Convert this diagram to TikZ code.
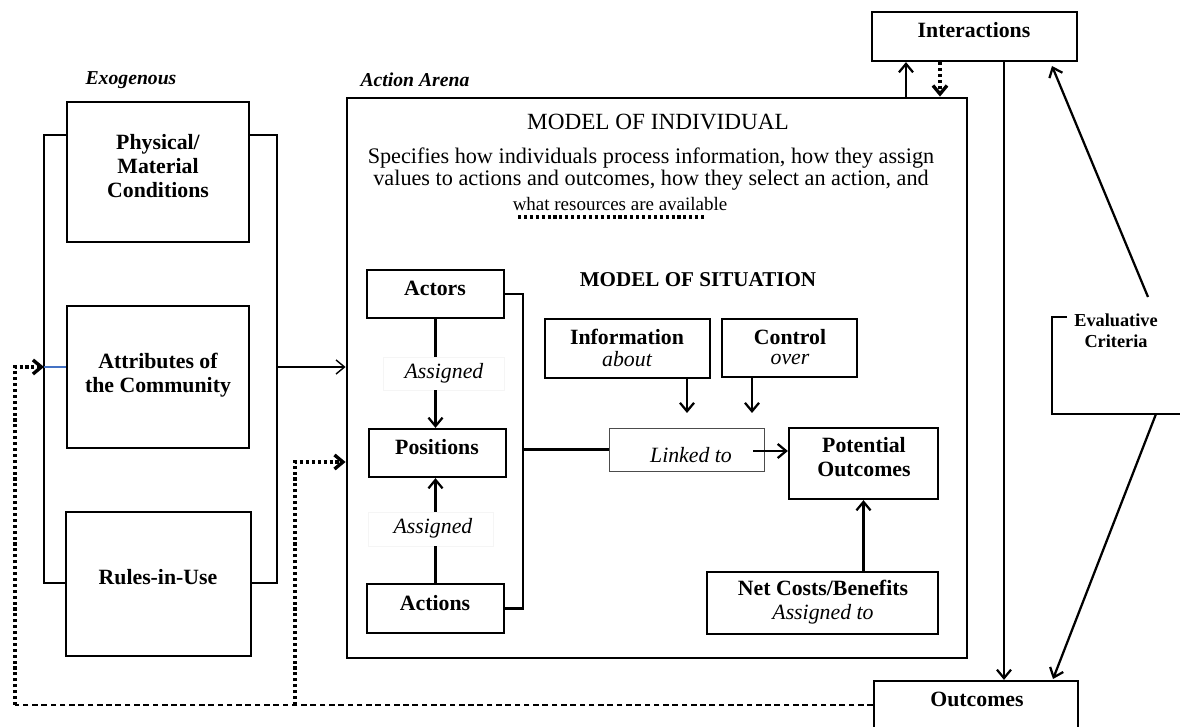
\documentclass[tikz,border=0pt]{standalone}
\usepackage{fontspec}
\setmainfont{Liberation Serif}
\usepackage{xcolor}
\usetikzlibrary{arrows.meta,fit}
\definecolor{linkblue}{RGB}{68,114,196}

\begin{document}
\begin{tikzpicture}[x=0.025cm, y=-0.025cm,
  box/.style={draw, line width=1.6pt, inner sep=0pt},
  thinbox/.style={draw=black!70, line width=0.7pt, inner sep=0pt},
  faint/.style={draw=black!4, line width=0.4pt, inner sep=0pt},
  lbl/.style={font=\fontsize{15.5}{16}\selectfont\bfseries, align=center},
  ital/.style={font=\fontsize{15.5}{16}\selectfont\itshape, align=center},
  head/.style={font=\fontsize{14}{16}\selectfont\bfseries\itshape},
  line/.style={line width=1.6pt},
  tip/.style={-{Straight Barb[length=6pt,width=10pt]}},
  arr/.style={line width=1.6pt, tip},
  fbdot/.style={line width=2.4pt, dash pattern=on 2.2pt off 2pt},
  fbdash/.style={line width=2pt, dash pattern=on 4pt off 2.6pt}]
\useasboundingbox (0,0) rectangle (1180,727);

% headings
\node[head] (exo) at (131,80) {Exogenous};
\node[head] (arenaT) at (415,80) {Action Arena};

% exogenous boxes
\node[box, fit={(67,102) (249,242)}] (phys) {};
\node[lbl, font=\fontsize{15.5}{16.8}\selectfont\bfseries] (physT) at (158,166) {Physical/\\Material\\Conditions};
\node[box, fit={(67,306) (249,448)}] (attr) {};
\node[lbl, font=\fontsize{15.5}{17}\selectfont\bfseries] (attrT) at (158,375) {Attributes of\\the Community};
\node[box, fit={(66,512) (251,656)}] (rules) {};
\node[lbl] (rulesT) at (158,577) {Rules-in-Use};

\coordinate (brTL) at (44,135);
\coordinate (brTR) at (277,135);
\coordinate (brBL) at (44,583);
\coordinate (brBR) at (277,583);
\coordinate (mid) at (0,367);
\draw[line] (phys.west |- brTL) -- (brTL) -- (brBL) -- (rules.west |- brBL);
\draw[line] (phys.east |- brTR) -- (brTR) -- (brBR) -- (rules.east |- brBR);
\draw[linkblue, line width=1.4pt] (brTL |- mid) -- (attr.west |- mid);

% action arena
\node[box, line width=2pt, fit={(347,98) (967,658)}] (arena) {};
\draw[line width=1pt, tip] (brTR |- mid) -- (arena.west |- mid);
\node[font=\fontsize{16.5}{18}\selectfont] (indiv) at (658,122) {MODEL OF INDIVIDUAL};
\node[font=\fontsize{15.8}{15.5}\selectfont, align=center] (spec) at (651,169)
  {Specifies how individuals process information, how they assign\\
   values to actions and outcomes, how they select an action, and};
\node[font=\fontsize{13.5}{15}\selectfont] (res) at (620,204) {what resources are available};
\draw[fbdot] (518,217) coordinate (ulA) -- (705,217) coordinate (ulB);
\node[font=\fontsize{15}{16}\selectfont\bfseries] (sit) at (698,280) {MODEL OF SITUATION};

% actors / positions / actions
\node[box, fit={(367,270) (504,318)}] (actors) {};
\node[lbl] (actorsT) at (435,288) {Actors};
\node[faint, fit={(383,357) (504,390)}] (ass1) {};
\node[ital] (ass1T) at (444,373) {Assigned};
\node[box, fit={(369,429) (506,477)}] (positions) {};
\node[lbl] (positionsT) at (437,447) {Positions};
\node[faint, fit={(368,512) (493,546)}] (ass2) {};
\node[ital] (ass2T) at (433,528) {Assigned};
\node[box, fit={(367,584) (504,633)}] (actions) {};
\node[lbl] (actionsT) at (435,603) {Actions};

\draw[line] (actors.south) -- (actors.south |- ass1.north);
\draw[arr] (actors.south |- ass1.south) -- (actors.south |- positions.north);
\draw[line] (actors.south |- actions.north) -- (actors.south |- ass2.south);
\draw[arr] (actors.south |- ass2.north) -- (actors.south |- positions.south);

\coordinate (brk) at (523,0);
\draw[line] (actors.east) -- (actors.east -| brk) -- (actions.east -| brk) -- (actions.east);

% situation
\node[box, fit={(545,319) (710,378)}] (info) {};
\node[lbl] (infoT) at (627,348) {Information\\[-1pt]{\mdseries\itshape about}};
\node[box, fit={(722,319) (857,377)}] (ctrl) {};
\node[lbl] (ctrlT) at (790,347) {Control\\[-2pt]{\mdseries\itshape over}};
\node[thinbox, fit={(609,428) (764,471)}] (linked) {};
\node[ital] (linkedT) at (691,455) {Linked to};
\node[box, fit={(789,428) (938,499)}] (pot) {};
\node[lbl, font=\fontsize{15.5}{17}\selectfont\bfseries] (potT) at (864,457) {Potential\\Outcomes};
\node[box, fit={(707,572) (938,634)}] (net) {};
\node[lbl, font=\fontsize{15.5}{17.5}\selectfont\bfseries] (netT) at (823,602) {Net Costs/Benefits\\{\mdseries\itshape Assigned to}};

\draw[line] (linked.west -| brk) -- (linked.west);
\coordinate (ia) at (687,413);
\coordinate (ca) at (752,413);
\draw[arr] (info.south -| ia) -- (ia);
\draw[arr] (ctrl.south -| ca) -- (ca);
\coordinate (lk) at (753,451);
\draw[arr] (lk) -- (lk -| pot.west);
\draw[arr] (pot.south |- net.north) -- (pot.south);

% interactions and outcomes
\node[box, fit={(872,12) (1077,61)}] (inter) {};
\node[lbl] (interT) at (974,30) {Interactions};
\node[box, fit={(874,681) (1078,729)}] (outc) {};
\node[lbl] (outcT) at (977,699) {Outcomes};

\coordinate (upx) at (906,0);
\coordinate (dnx) at (940,0);
\coordinate (vx) at (1004,0);
\draw[arr] (arena.north -| upx) -- (inter.south -| upx);
\draw[fbdot, tip] (inter.south -| dnx) -- (arena.north -| dnx);
\draw[arr] (inter.south -| vx) -- (outc.north -| vx);

% evaluative criteria
\draw[line] (1067,317) -- (1052,317) -- (1052,414) -- (1185,414);
\node[font=\fontsize{13}{15}\selectfont\bfseries, align=center] (evalT) at (1116,331) {Evaluative\\Criteria};
\coordinate (evTop) at (1148,297);
\coordinate (evTip) at (1052,66);
\coordinate (evBot) at (1156,414);
\coordinate (evOut) at (1053,679);
\draw[arr] (evTop) -- (evTip);
\draw[arr] (evBot) -- (evOut);

% feedback from outcomes
\coordinate (fbL) at (15,367);
\coordinate (fbM) at (295,462);
\draw[fbdash] (outc.west) -- (outc.west -| fbL);
\draw[fbdot, tip] (outc.west -| fbL) -- (fbL) -- (brTL |- fbL);
\draw[fbdot, tip] (outc.west -| fbM) -- (fbM) -- (arena.west |- fbM);
\end{tikzpicture}
\end{document}
